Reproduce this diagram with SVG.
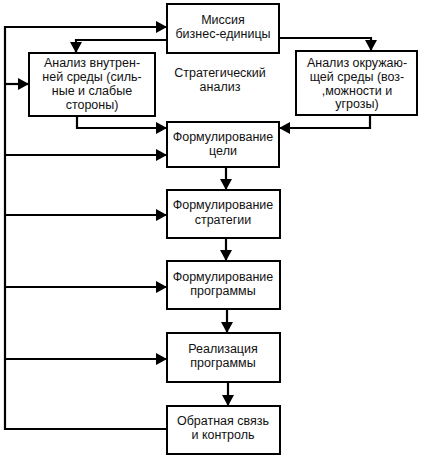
<svg xmlns="http://www.w3.org/2000/svg" width="424" height="461" viewBox="0 0 424 461">
<defs>
<marker id="ah" markerWidth="11" markerHeight="12" refX="10" refY="6" orient="auto" markerUnits="userSpaceOnUse">
<path d="M0,0 L11,6 L0,12 Z" fill="#000"/>
</marker>
<style>
.box{fill:#fff;stroke:#000;stroke-width:2}
.t{font-family:"Liberation Sans",Arial,sans-serif;font-size:12.5px;fill:#111;text-anchor:middle}
.c{fill:none;stroke:#000;stroke-width:2.2}
</style>
</defs>
<rect width="424" height="461" fill="#fff"/>
<g id="connectors">
<path class="c" d="M167,429 H5 V27 H166" marker-end="url(#ah)"/>
<path class="c" d="M5,84 H28" marker-end="url(#ah)"/>
<path class="c" d="M5,155 H166" marker-end="url(#ah)"/>
<path class="c" d="M5,215 H166" marker-end="url(#ah)"/>
<path class="c" d="M5,287 H166" marker-end="url(#ah)"/>
<path class="c" d="M5,359 H166" marker-end="url(#ah)"/>
<path class="c" d="M167,40 H76 V52" marker-end="url(#ah)"/>
<path class="c" d="M279,38 H371 V50" marker-end="url(#ah)"/>
<path class="c" d="M77,116 V128 H166" marker-end="url(#ah)"/>
<path class="c" d="M370,115 V128 H280" marker-end="url(#ah)"/>
<path class="c" d="M226,167 V189" marker-end="url(#ah)"/>
<path class="c" d="M226,238 V260" marker-end="url(#ah)"/>
<path class="c" d="M227,309 V332" marker-end="url(#ah)"/>
<path class="c" d="M228,382 V405" marker-end="url(#ah)"/>
</g>
<g id="mission">
<rect class="box" x="167" y="4" width="112" height="49"/>
<text class="t" x="223" y="24">Миссия</text>
<text class="t" x="223" y="38">бизнес-единицы</text>
</g>
<g id="internal">
<rect class="box" x="29" y="53" width="126" height="63"/>
<text class="t" x="92" y="67">Анализ внутрен-</text>
<text class="t" x="92" y="81">ней среды (силь-</text>
<text class="t" x="92" y="95">ные и слабые</text>
<text class="t" x="92" y="109">стороны)</text>
</g>
<g id="strategic-analysis">
<text class="t" x="220" y="77">Стратегический</text>
<text class="t" x="220" y="91">анализ</text>
</g>
<g id="external">
<rect class="box" x="296" y="51" width="121" height="64"/>
<text class="t" x="357" y="67">Анализ окружаю-</text>
<text class="t" x="357" y="81">щей среды (воз-</text>
<text class="t" x="357" y="95">,можности и</text>
<text class="t" x="357" y="108">угрозы)</text>
</g>
<g id="goal">
<rect class="box" x="167" y="122" width="112" height="45"/>
<text class="t" x="223" y="141">Формулирование</text>
<text class="t" x="223" y="155">цели</text>
</g>
<g id="strategy">
<rect class="box" x="167" y="190" width="113" height="48"/>
<text class="t" x="223" y="209">Формулирование</text>
<text class="t" x="223" y="224">стратегии</text>
</g>
<g id="program">
<rect class="box" x="167" y="261" width="113" height="48"/>
<text class="t" x="223" y="281">Формулирование</text>
<text class="t" x="223" y="295">программы</text>
</g>
<g id="implementation">
<rect class="box" x="167" y="333" width="113" height="49"/>
<text class="t" x="223" y="353">Реализация</text>
<text class="t" x="223" y="367">программы</text>
</g>
<g id="feedback">
<rect class="box" x="167" y="406" width="113" height="48"/>
<text class="t" x="223" y="425">Обратная связь</text>
<text class="t" x="223" y="439">и контроль</text>
</g>
</svg>
